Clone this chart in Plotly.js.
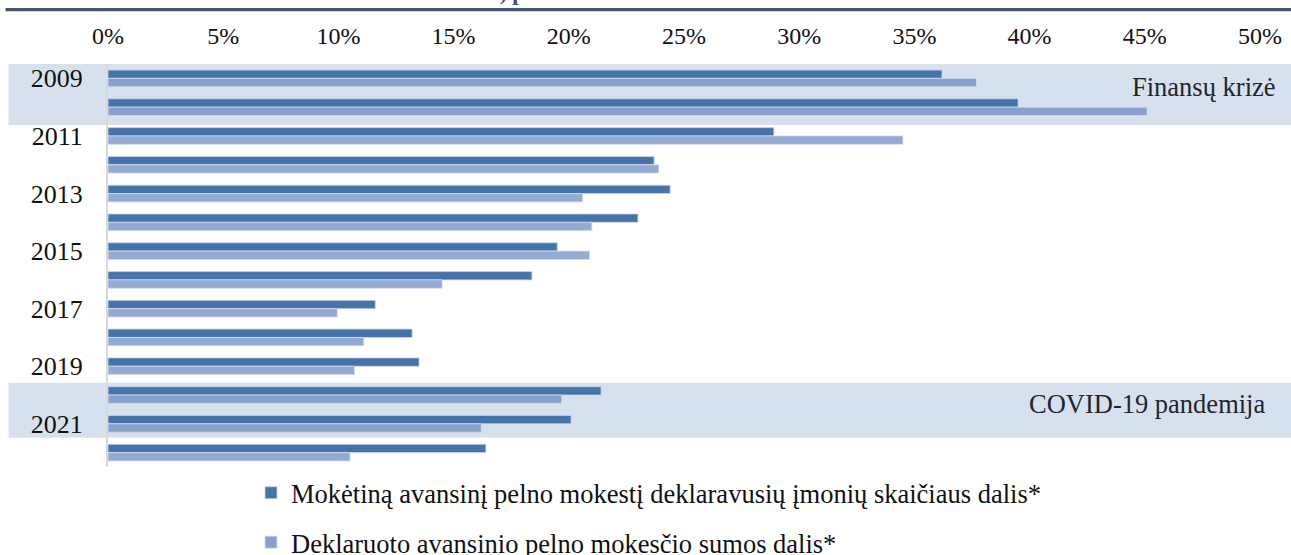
<!DOCTYPE html>
<html>
<head>
<meta charset="utf-8">
<script src="https://cdn.plot.ly/plotly-3.0.1.min.js"></script>
<style>
html,body{margin:0;padding:0;background:#fff;overflow:hidden;}
#chart{width:1291px;height:555px;}
</style>
</head>
<body>
<div id="chart"></div>
<script>
// ---- data ----
const years = ["2009","2010","2011","2012","2013","2014","2015","2016","2017","2018","2019","2020","2021","2022"];
const yearLabels = ["2009","2011","2013","2015","2017","2019","2021"];
const shareCompanies = [36.2, 39.5, 28.9, 23.7, 24.4, 23.0, 19.5, 18.4, 11.6, 13.2, 13.5, 21.4, 20.1, 16.4];
const shareAmount    = [37.7, 45.1, 34.5, 23.9, 20.6, 21.0, 20.9, 14.5, 9.95, 11.1, 10.7, 19.7, 16.2, 10.5];
const seriesNames = [
  "Mokėtiną avansinį pelno mokestį deklaravusių įmonių skaičiaus dalis*",
  "Deklaruoto avansinio pelno mokesčio sumos dalis*"
];
const xTicks = [0,5,10,15,20,25,30,35,40,45,50];
const xTickLabels = ["0%","5%","10%","15%","20%","25%","30%","35%","40%","45%","50%"];
const bandLabels = ["Finansų krizė", "COVID-19 pandemija"];
const bandYears = ["2009","2010","2020","2021"];

// ---- chart ----
const serif = "Liberation Serif";
const lightColors = years.map(y => bandYears.includes(y) ? "#87A1CC" : "#94AAD2");
const traces = [
  {type:"bar", orientation:"h", y:years, x:shareCompanies, name:seriesNames[0],
   legendgroup:"a",
   marker:{color:"#4674A9", line:{color:"#c9d6ea", width:0.8}}, hoverinfo:"x+y"},
  {type:"bar", orientation:"h", y:years, x:shareAmount, name:seriesNames[1],
   legendgroup:"b",
   marker:{color:lightColors, line:{color:"#d3ddee", width:0.8}}, hoverinfo:"x+y"}
];

const layout = {
  width:1291, height:555,
  margin:{l:107.5, r:30.5, t:64, b:88, pad:0, autoexpand:false},
  paper_bgcolor:"#fff", plot_bgcolor:"rgba(0,0,0,0)",
  font:{family:serif, size:24, color:"#111"},
  barmode:"group", bargap:0.42, bargroupgap:0,
  showlegend:true,
  legend:{xref:"container", yref:"container", x:251/1291, xanchor:"left", y:1-469/555, yanchor:"top",
          orientation:"v", traceorder:"grouped", tracegroupgap:12,
          font:{family:serif, size:26.5, color:"#111"}, bgcolor:"rgba(0,0,0,0)"},
  xaxis:{side:"top", range:[0,50], tickvals:xTicks, ticktext:xTickLabels,
         showgrid:false, zeroline:false, showline:false, ticks:"", automargin:false,
         ticklabelstandoff:14, tickfont:{family:serif, size:24, color:"#111"}, fixedrange:true},
  yaxis:{type:"category", categoryorder:"array", categoryarray:years,
         range:[13.5,-0.5], tickvals:yearLabels, ticktext:yearLabels, automargin:false,
         showgrid:false, zeroline:false, showline:true, linecolor:"#d9d9d9", linewidth:2,
         ticks:"", ticklabelstandoff:18, tickfont:{family:serif, size:26, color:"#111"}, fixedrange:true},
  shapes:[
    {type:"rect", layer:"below", xref:"paper", yref:"y", x0:-0.0863, x1:1.03, y0:-0.56, y1:1.62,
     fillcolor:"#D7E1EE", line:{width:0}},
    {type:"rect", layer:"below", xref:"paper", yref:"y", x0:-0.0863, x1:1.03, y0:10.57, y1:12.48,
     fillcolor:"#D7E1EE", line:{width:0}},
    {type:"rect", layer:"above", xref:"paper", yref:"paper", x0:-0.089, x1:1.03, y0:(467-11.3)/403, y1:(467-8)/403,
     fillcolor:"#44546A", line:{width:0}}
  ],
  annotations:[
    {xref:"paper", yref:"y", x:1.0152, y:0.30, xanchor:"right", yanchor:"middle",
     text:bandLabels[0], showarrow:false, font:{family:serif, size:26.5, color:"#1f2630"}},
    {xref:"paper", yref:"y", x:1.0065, y:11.3, xanchor:"right", yanchor:"middle",
     text:bandLabels[1], showarrow:false, font:{family:serif, size:26.5, color:"#1f2630"}},
    {xref:"paper", yref:"paper", x:(498-107.5)/1153, y:(467+8)/403, xanchor:"left", yanchor:"middle",
     text:"<b>, p</b>", showarrow:false, font:{family:serif, size:24, color:"#44546A"}}
  ]
};

Plotly.newPlot("chart", traces, layout, {displayModeBar:false, staticPlot:true});
</script>
</body>
</html>
